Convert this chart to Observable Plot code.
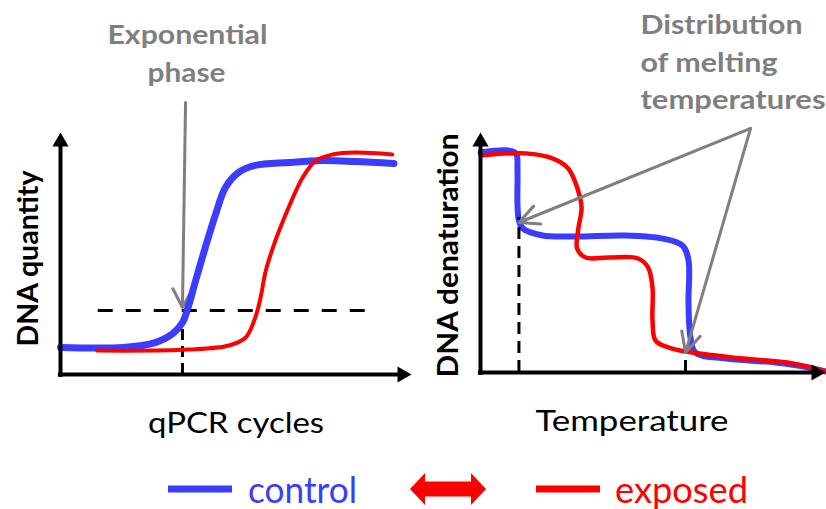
<!DOCTYPE html>
<html><head><meta charset="utf-8">
<script src="https://cdn.jsdelivr.net/npm/d3@7"></script>
<script src="https://cdn.jsdelivr.net/npm/@observablehq/plot@0.6"></script>
<style>
body{margin:0;background:#fff;font-family:Lato,sans-serif}
#wrap{position:relative;width:826px;height:509px;overflow:hidden;background:#fff}
#left{position:absolute;left:0;top:0}
#right{position:absolute;left:413px;top:0}
#legend{position:absolute;left:0;top:445px}
</style></head><body>
<div id="wrap"><div id="left"></div><div id="right"></div><div id="legend"></div></div>
<script>
// ---------- data ----------
const series = ["control", "exposed"];
const seriesColors = ["#3c3cff", "#ff0000"];

// qPCR amplification (cycles vs DNA quantity, arbitrary units)
const qpcrControlCycle = [0, 7.1, 10.8, 12.8, 13.9, 14.5, 15.4, 16.5, 17.7, 18.8, 20.3, 22.2, 26.0, 29.9, 33.6, 38.0];
const qpcrControlQty   = [0.112, 0.112, 0.132, 0.169, 0.215, 0.273, 0.388, 0.525, 0.665, 0.773, 0.835, 0.864, 0.876, 0.884, 0.880, 0.872];
const qpcrExposedCycle = [4.2, 14.6, 19.2, 21.1, 22.2, 22.8, 23.4, 24.5, 26.0, 27.6, 29.1, 31.0, 33.6, 37.8];
const qpcrExposedQty   = [0.099, 0.103, 0.120, 0.153, 0.236, 0.318, 0.430, 0.554, 0.690, 0.814, 0.884, 0.909, 0.917, 0.909];
const threshold = 0.264;
const thresholdRange = [4.3, 35.0];
const ctControl = 13.9;
const ctControlQty = 0.215;

// melting curves (temperature vs DNA denaturation, arbitrary units)
const meltControlTemp = [60.0, 62.8, 63.6, 63.75, 63.75, 63.9, 64.3, 66.3, 69.6, 74.7, 78.5, 80.5, 81.1, 81.1, 81.3, 81.8, 84.9, 89.9, 93.3, 95.0];
const meltControlDen  = [0.917, 0.925, 0.913, 0.842, 0.704, 0.633, 0.600, 0.571, 0.567, 0.571, 0.558, 0.529, 0.467, 0.288, 0.146, 0.083, 0.058, 0.042, 0.021, 0.004];
const meltExposedTemp = [60.0, 64.6, 67.3, 68.9, 69.8, 70.25, 69.9, 69.8, 70.65, 73.0, 76.0, 77.0, 77.45, 77.45, 77.75, 79.1, 81.5, 86.6, 91.65, 95.0];
const meltExposedDen  = [0.904, 0.913, 0.892, 0.850, 0.771, 0.688, 0.592, 0.517, 0.479, 0.479, 0.475, 0.438, 0.354, 0.217, 0.133, 0.104, 0.083, 0.058, 0.038, 0.004];
const meltTm    = [63.9, 80.8];
const meltTmDen = [0.646, 0.104];

// labels
const leftYLabel = "DNA quantity";
const leftXLabel = "qPCR cycles";
const rightYLabel = "DNA denaturation";
const rightXLabel = "Temperature";
const leftNote = ["Exponential", "phase"];
const rightNote = ["Distribution", "of melting", "temperatures"];

// ---------- tables ----------
const qControl = qpcrControlCycle.map((c, i) => ({x: c, y: qpcrControlQty[i]}));
const qExposed = qpcrExposedCycle.map((c, i) => ({x: c, y: qpcrExposedQty[i]}));
const mControl = meltControlTemp.map((t, i) => ({x: t, y: meltControlDen[i]}));
const mExposed = meltExposedTemp.map((t, i) => ({x: t, y: meltExposedDen[i]}));
const tmRows = meltTm.map((t, i) => ({x: t, y: meltTmDen[i]}));

const GRAY = "#7f7f7f";
const FONT = "Lato, 'Open Sans', sans-serif";
const textWidths = {
  "Exponential": 160, "phase": 78, "Distribution": 162, "of melting": 137, "temperatures": 185,
  "qPCR cycles": 176, "Temperature": 193, "DNA quantity": 176, "DNA denaturation": 244,
  "control": 109, "exposed": 133
};
function fitText(svg) {
  d3.select(svg).selectAll("text").each(function () {
    const w = textWidths[this.textContent];
    if (w) { this.setAttribute("textLength", w); this.setAttribute("lengthAdjust", "spacingAndGlyphs"); }
  });
  return svg;
}
function axisMarks(xd, yd) {
  return [
    Plot.ruleX([xd[0]], {y1: yd[0] - 0.012, y2: yd[0] + (yd[1] - yd[0]) * 0.96, stroke: "black", strokeWidth: 4}),
    Plot.ruleY([yd[0]], {x1: xd[0] - (xd[1] - xd[0]) * 0.006, x2: xd[0] + (xd[1] - xd[0]) * 0.97, stroke: "black", strokeWidth: 4}),
    Plot.dot([0], {x: xd[0], y: yd[1], symbol: "triangle", r: 6, fill: "black", stroke: "none", dy: 9.33}),
    Plot.dot([0], {x: xd[1], y: yd[0], symbol: "triangle", r: 6, fill: "black", stroke: "none", rotate: 90, dx: -9.33})
  ];
}

// ---------- left panel ----------
const xL = [0, 40], yL = [0, 1];
const left = Plot.plot({
  width: 413, height: 445,
  marginLeft: 60, marginRight: 2, marginTop: 132, marginBottom: 71,
  x: {domain: xL, axis: null},
  y: {domain: yL, axis: null},
  style: {fontFamily: FONT, background: "white", overflow: "visible"},
  marks: [
    Plot.ruleY([threshold], {x1: thresholdRange[0], x2: thresholdRange[1], stroke: "black", strokeWidth: 3, strokeDasharray: "15,13"}),
    Plot.ruleX([ctControl], {y1: 0, y2: ctControlQty, stroke: "black", strokeWidth: 3, strokeDasharray: "11,6"}),
    Plot.arrow([0], {x1: 14.25, y1: 1.124, x2: ctControl, y2: 0.277, stroke: GRAY, strokeWidth: 3, headLength: 10.5, headAngle: 56}),
    Plot.line(qControl, {x: "x", y: "y", stroke: seriesColors[0], strokeWidth: 7, curve: "catmull-rom"}),
    Plot.line(qExposed, {x: "x", y: "y", stroke: seriesColors[1], strokeWidth: 4, curve: "catmull-rom"}),
    ...axisMarks(xL, yL),
    Plot.text([leftNote[0]], {x: 14.47, y: 1.364, text: d => d, textAnchor: "middle", lineAnchor: "bottom", fontSize: 26, fontWeight: "bold", fill: GRAY}),
    Plot.text([leftNote[1]], {x: 14.36, y: 1.207, text: d => d, textAnchor: "middle", lineAnchor: "bottom", fontSize: 26, fontWeight: "bold", fill: GRAY}),
    Plot.text([leftYLabel], {frameAnchor: "left", dx: -32, dy: 5, rotate: -90, text: d => d, textAnchor: "middle", lineAnchor: "middle", fontSize: 29, fontWeight: "bold", fill: "black"}),
    Plot.text([leftXLabel], {frameAnchor: "bottom", dy: 58, text: d => d, textAnchor: "middle", lineAnchor: "bottom", fontSize: 29, fill: "black"})
  ]
});
document.getElementById("left").appendChild(fitText(left));

// ---------- right panel ----------
const xR = [60, 95], yR = [0, 1];
const right = Plot.plot({
  width: 413, height: 445,
  marginLeft: 67, marginRight: 1, marginTop: 132, marginBottom: 73,
  x: {domain: xR, axis: null},
  y: {domain: yR, axis: null},
  style: {fontFamily: FONT, background: "white", overflow: "visible"},
  marks: [
    Plot.line(mControl, {x: "x", y: "y", stroke: seriesColors[0], strokeWidth: 6, curve: "catmull-rom"}),
    Plot.line(mExposed, {x: "x", y: "y", stroke: seriesColors[1], strokeWidth: 4.5, curve: "catmull-rom"}),
    Plot.ruleX(tmRows, {x: "x", y1: 0, y2: "y", stroke: "black", strokeWidth: 3, strokeDasharray: "12,7"}),
    Plot.arrow(tmRows, {x1: 87.4, y1: 1.017, x2: "x", y2: (d, i) => [0.625, 0.083][i], stroke: GRAY, strokeWidth: 3, headLength: 11, headAngle: 52}),
    ...axisMarks(xR, yR),
    ...rightNote.map((s, i) => Plot.text([s], {x: 76.23, y: [1.4125, 1.254, 1.1][i], text: d => d, textAnchor: "start", lineAnchor: "bottom", fontSize: 26, fontWeight: "bold", fill: GRAY})),
    Plot.text([rightYLabel], {frameAnchor: "left", dx: -32, dy: 3, rotate: -90, text: d => d, textAnchor: "middle", lineAnchor: "middle", fontSize: 29, fontWeight: "bold", fill: "black"}),
    Plot.text([rightXLabel], {x: 75.37, y: 0, dy: 58, text: d => d, textAnchor: "middle", lineAnchor: "bottom", fontSize: 29, fill: "black"})
  ]
});
document.getElementById("right").appendChild(fitText(right));

// ---------- legend ----------
const lg = d3.select("#legend").append("svg").attr("width", 826).attr("height", 64)
  .style("font-family", FONT);
const swatchX = [168, 536], labelX = [248, 615];
series.forEach((s, i) => {
  lg.append("rect").attr("x", swatchX[i]).attr("y", 40.5).attr("width", 64).attr("height", 7).attr("fill", seriesColors[i]);
  lg.append("text").attr("x", labelX[i]).attr("y", 57.5).attr("font-size", 37).attr("fill", seriesColors[i]).text(s);
});
lg.append("polygon").attr("fill", seriesColors[1])
  .attr("points", "410,44 425,28 425,36.5 471,36.5 471,28 486,44 471,60 471,51.5 425,51.5 425,60");
fitText(lg.node());
</script>
</body></html>
